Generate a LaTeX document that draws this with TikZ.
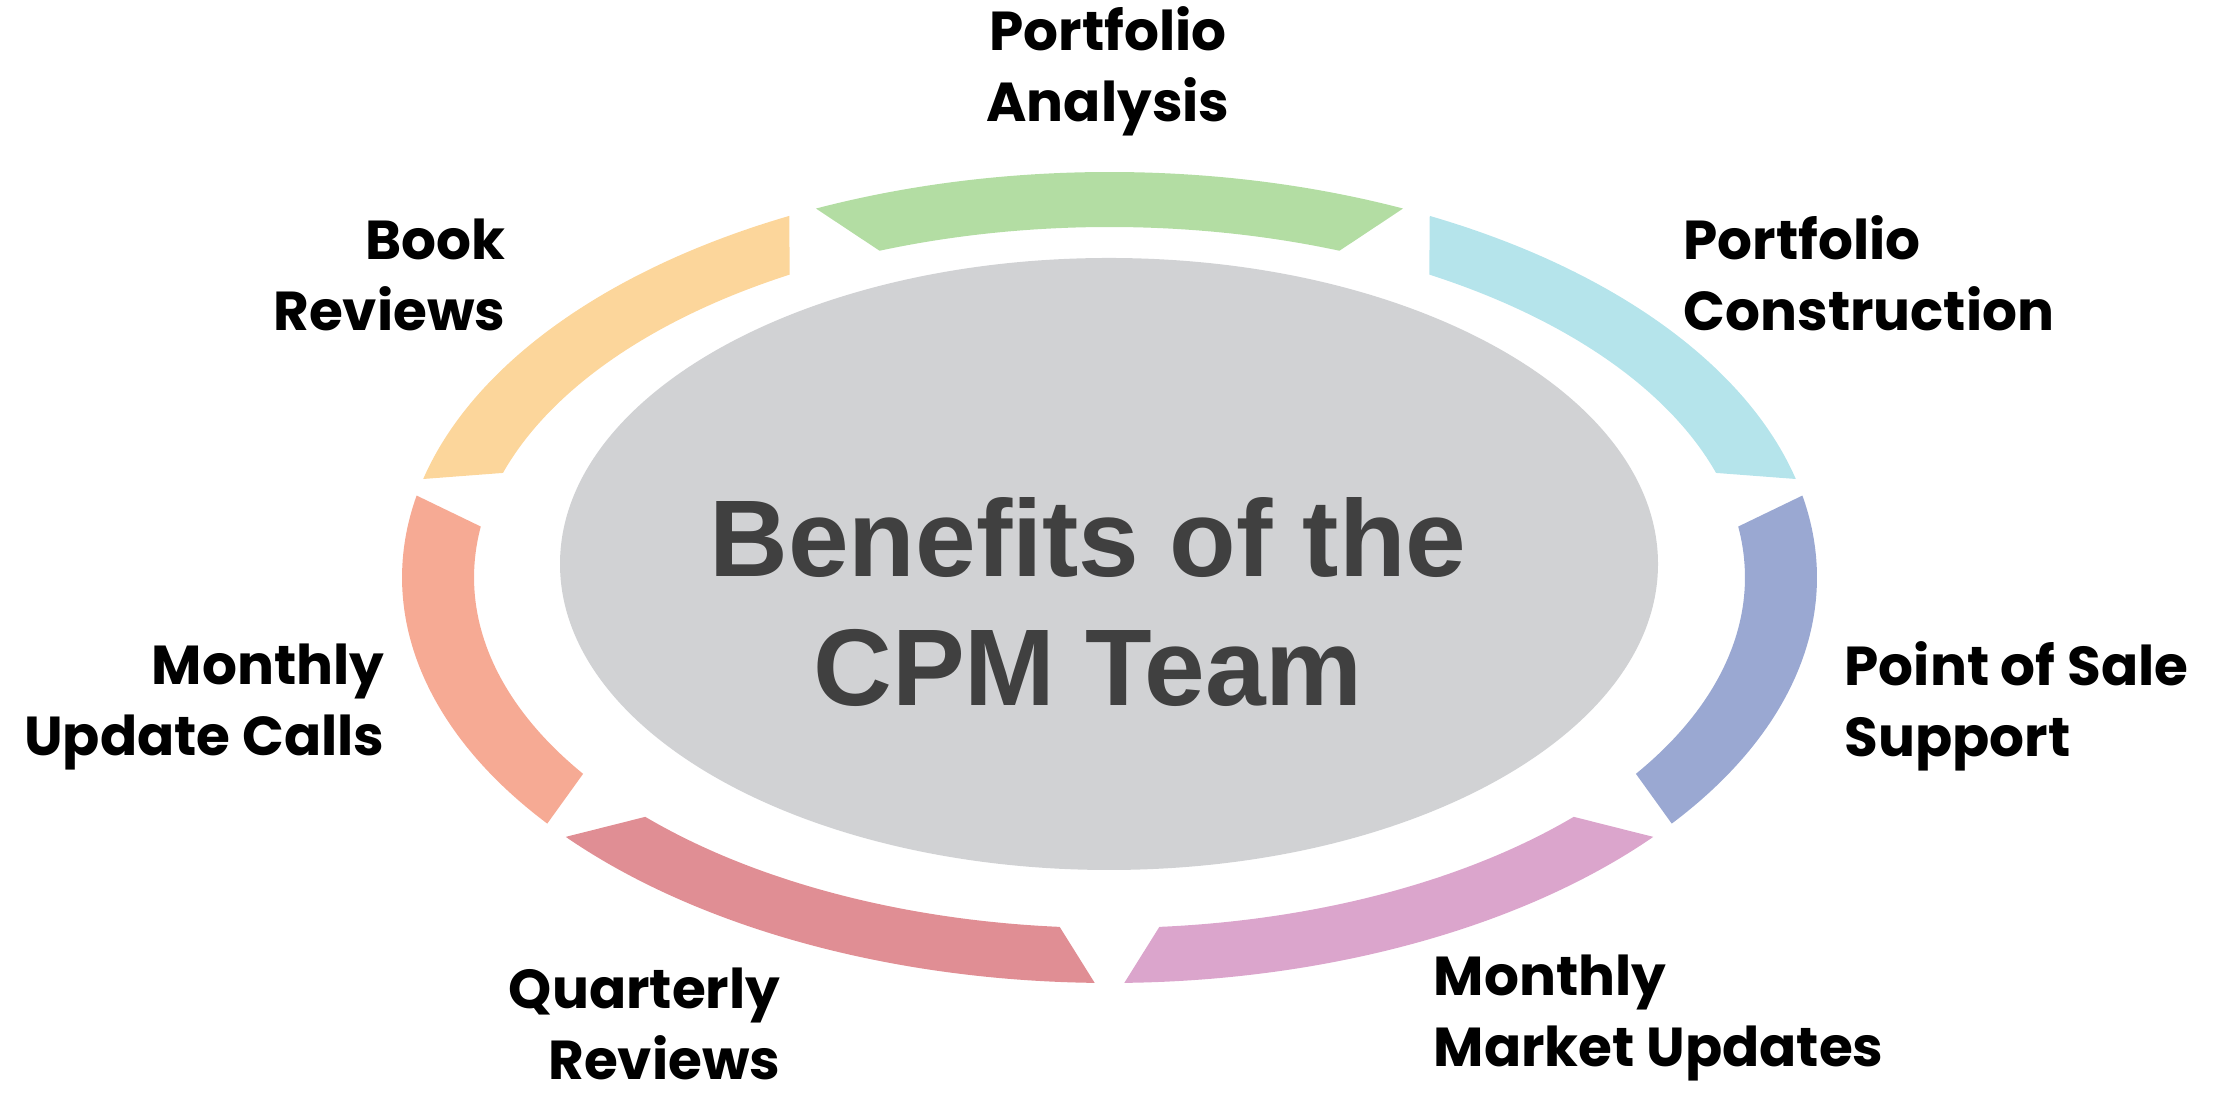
\documentclass[tikz,border=0pt]{standalone}
\usepackage{fontspec}
\setmainfont{Poppins}
\newfontfamily\titlefont{Liberation Sans}
\definecolor{segpink}{RGB}{219,165,204}
\definecolor{segblue}{RGB}{154,168,210}
\definecolor{segcyan}{RGB}{181,228,235}
\definecolor{seggreen}{RGB}{179,221,163}
\definecolor{segorange}{RGB}{252,214,155}
\definecolor{segsalmon}{RGB}{246,170,148}
\definecolor{segred}{RGB}{224,142,148}
\definecolor{hubgray}{RGB}{209,210,212}
\definecolor{titlegray}{RGB}{64,64,64}
\tikzset{
  lbl/.style={font=\fontsize{15.6}{20.2}\selectfont\bfseries, inner sep=0pt},
  ttl/.style={font=\titlefont\fontsize{31}{36.5}\selectfont\bfseries, align=center, inner sep=0pt}
}

\begin{document}
\begin{tikzpicture}[x=0.01cm, y=0.01cm]
			\useasboundingbox (0,0) rectangle (2236,1095);
			% hub
			\fill [hubgray] (1109,531) ellipse [x radius=549, y radius=306];
			% ring of seven segments, gaps at 270 + k*360/7
			\begin{scope}[shift={(1109.5,517.5)}]
			\foreach \k/\col in {0/segpink,1/segblue,2/segcyan,3/seggreen,4/segorange,5/segsalmon,6/segred} {
				\pgfmathsetmacro{\ga}{270+360/7*\k}
				\pgfmathsetmacro{\gb}{270+360/7*(\k+1)}
				\fill [\col] (\ga+1.2:707.5 and 405.5)
					arc [start angle=\ga+1.2, end angle=\gb-1.2, x radius=707.5, y radius=405.5]
					-- (\gb-4.5:635.5 and 350.5)
					arc [start angle=\gb-4.5, end angle=\ga+4.5, x radius=635.5, y radius=350.5]
					-- cycle;
			}
			\end{scope}
			% title
			\node [ttl, titlegray] (title) at (1088,493) {Benefits of the\\CPM Team};
			% labels
			\node [lbl, align=center] (anal) at (1108,1024) {Portfolio\\Analysis};
			\node [lbl, align=right, anchor=east] (book) at (506,820) {Book\\Reviews};
			\node [lbl, align=left, anchor=west] (constr) at (1683,822) {Portfolio\\Construction};
			\node [lbl, align=left, anchor=west] (sale) at (1844,389) {Point of Sale\\Support};
			\node [lbl, align=right, anchor=east] (calls) at (385,388) {Monthly\\Update Calls};
			\node [lbl, align=right, anchor=east] (quart) at (781,71) {Quarterly\\Reviews};
			\node [lbl, align=left, anchor=west] (market) at (1433,77) {Monthly\\Market Updates};
		\end{tikzpicture}
\end{document}
